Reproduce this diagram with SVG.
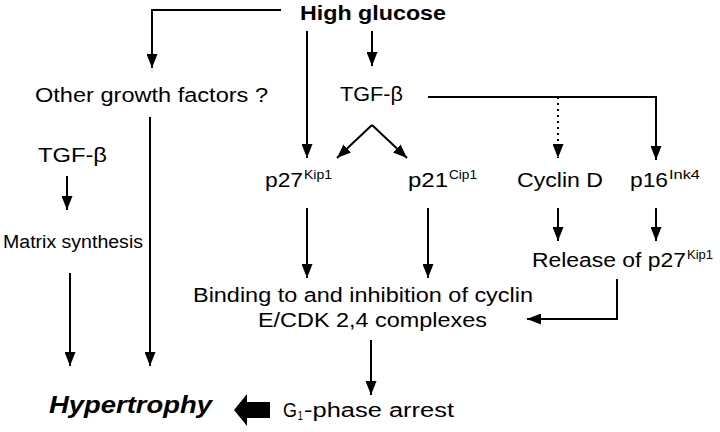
<svg xmlns="http://www.w3.org/2000/svg" width="720" height="432" viewBox="0 0 720 432">
<defs>
<marker id="ah" markerUnits="userSpaceOnUse" markerWidth="14" markerHeight="11" refX="14" refY="5.5" orient="auto">
<path d="M0,0 L14,5.5 L0,11 z" fill="#000"/>
</marker>
<style>
text{font-family:"Liberation Sans",Arial,sans-serif;fill:#000}
.t{font-size:20px}
.s{font-size:13px}
.m{font-size:18px}
.b{font-size:20px;font-weight:bold}
.h{font-size:24px;font-weight:bold;font-style:italic}
.c path{fill:none;stroke:#000;stroke-width:2;marker-end:url(#ah)}
.c path.dot{stroke-dasharray:2,4}
</style>
</defs>
<rect width="720" height="432" fill="#fff"/>
<g id="high-glucose"><text class="b" x="300" y="20" textLength="146" lengthAdjust="spacingAndGlyphs">High glucose</text></g>
<g id="other-growth-factors"><text class="t" x="35" y="101.5" textLength="233" lengthAdjust="spacingAndGlyphs">Other growth factors ?</text></g>
<g id="tgfb-top"><text class="t" x="340" y="100.5" textLength="63" lengthAdjust="spacingAndGlyphs">TGF-β</text></g>
<g id="tgfb-left"><text class="t" x="38" y="161.5" textLength="69" lengthAdjust="spacingAndGlyphs">TGF-β</text></g>
<g id="matrix-synthesis"><text class="m" x="3" y="248" textLength="140" lengthAdjust="spacingAndGlyphs">Matrix synthesis</text></g>
<g id="p27"><text class="t" x="265" y="186.5" textLength="38" lengthAdjust="spacingAndGlyphs">p27</text><text class="s" x="304" y="179" textLength="28" lengthAdjust="spacingAndGlyphs">Kip1</text></g>
<g id="p21"><text class="t" x="408" y="186.5" textLength="40" lengthAdjust="spacingAndGlyphs">p21</text><text class="s" x="449" y="179" textLength="28" lengthAdjust="spacingAndGlyphs">Cip1</text></g>
<g id="cyclin-d"><text class="t" x="517" y="187" textLength="86" lengthAdjust="spacingAndGlyphs">Cyclin D</text></g>
<g id="p16"><text class="t" x="630" y="187" textLength="38" lengthAdjust="spacingAndGlyphs">p16</text><text class="s" x="669" y="179" textLength="31" lengthAdjust="spacingAndGlyphs">Ink4</text></g>
<g id="release"><text class="t" x="532" y="266.5" textLength="154" lengthAdjust="spacingAndGlyphs">Release of p27</text><text class="s" x="687" y="259" textLength="26" lengthAdjust="spacingAndGlyphs">Kip1</text></g>
<g id="binding"><text class="t" x="193" y="301.5" textLength="340" lengthAdjust="spacingAndGlyphs">Binding to and inhibition of cyclin</text><text class="t" x="258" y="327" textLength="229" lengthAdjust="spacingAndGlyphs">E/CDK 2,4 complexes</text></g>
<g id="g1-arrest"><text class="t" x="283" y="416.5" textLength="14" lengthAdjust="spacingAndGlyphs">G</text><text class="s" x="297.5" y="420" textLength="5.5" lengthAdjust="spacingAndGlyphs">1</text><text class="t" x="304" y="416.5" textLength="150" lengthAdjust="spacingAndGlyphs">-phase arrest</text></g>
<g id="hypertrophy"><text class="h" x="49" y="413" textLength="163" lengthAdjust="spacingAndGlyphs">Hypertrophy</text></g>
<g id="connectors" class="c">
<path d="M281,10 H152 V68"/>
<path d="M307,31 V158"/>
<path d="M372,31 V66"/>
<path d="M372,125 L337,158"/>
<path d="M372,125 L407,158"/>
<path d="M428,97 H656 V160"/>
<path d="M558,97 V158" class="dot"/>
<path d="M67,176 V210"/>
<path d="M70,273 V366"/>
<path d="M150,117 V366"/>
<path d="M307,208 V278"/>
<path d="M428,208 V278"/>
<path d="M558,208 V241"/>
<path d="M656,208 V241"/>
<path d="M617,279 V319 H527"/>
<path d="M371,340 V395"/>
<polygon points="234,410 247,394 247,402 270,402 270,418 247,418 247,426" fill="#000" stroke="none"/>
</g>
</svg>
